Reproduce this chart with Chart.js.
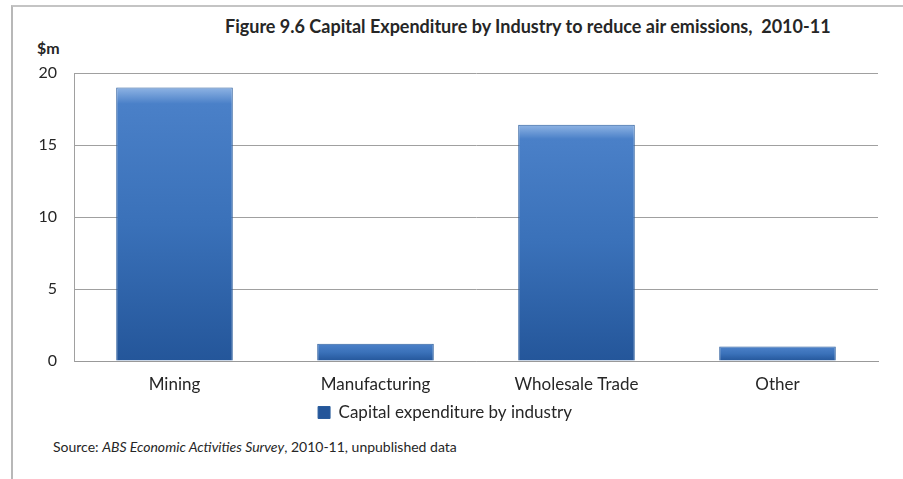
<!DOCTYPE html>
<html>
<head>
<meta charset="utf-8">
<script src="https://cdn.jsdelivr.net/npm/chart.js@4"></script>
<style>
  html, body { margin: 0; padding: 0; background: #fff; }
  body { width: 903px; height: 479px; position: relative; overflow: hidden; font-family: Lato, 'Open Sans', sans-serif; color: #262626; }
  #frame { position: absolute; left: 11px; top: 5px; width: 890px; height: 500px; border-left: 2px solid #b8b8b8; border-top: 2px solid #c4c4c4; border-right: 2px solid #d8d8d8; }
  #title { position: absolute; left: 225px; top: 15px; font-weight: bold; font-size: 18px; white-space: nowrap; }
  #unit { position: absolute; left: 37px; top: 38px; font-weight: bold; font-size: 16px; }
  #source { position: absolute; left: 53px; top: 438px; font-size: 14px; }
  #wrap { position: absolute; left: 12px; top: 6px; width: 889px; height: 425px; }
</style>
</head>
<body>
<div id="frame"></div>
<div id="title">Figure 9.6 Capital Expenditure by Industry to reduce air emissions,&nbsp; 2010-11</div>
<div id="unit">$m</div>
<div id="wrap"><canvas id="chart"></canvas></div>
<div id="source">Source: <i>ABS Economic Activities Survey</i>, 2010-11, unpublished data</div>
<script>
// data
var industries = ['Mining', 'Manufacturing', 'Wholesale Trade', 'Other'];
var spend = [19.0, 1.2, 16.4, 1.0];
var yTicks = [0, 5, 10, 15, 20];

function barFill(ctx) {
  var chart = ctx.chart;
  if (!chart.chartArea || ctx.dataIndex === undefined) return '#2f66ad';
  var y = chart.scales.y;
  var top = y.getPixelForValue(spend[ctx.dataIndex]);
  var base = y.getPixelForValue(0);
  var g = chart.ctx.createLinearGradient(0, top, 0, base);
  g.addColorStop(0, '#8fb4e4');
  g.addColorStop(0.06, '#4a80c8');
  g.addColorStop(0.5, '#3a71b9');
  g.addColorStop(1, '#24569a');
  return g;
}

new Chart(document.getElementById('chart'), {
  type: 'bar',
  data: {
    labels: industries,
    datasets: [{
      label: 'Capital expenditure by industry',
      data: spend,
      backgroundColor: barFill,
      borderColor: '#2a5c9c',
      borderWidth: 1,
      barPercentage: 0.58,
      categoryPercentage: 1
    }]
  },
  options: {
    responsive: true,
    maintainAspectRatio: false,
    animation: false,
    layout: { padding: { left: 0, right: 23, top: 67, bottom: 0 } },
    scales: {
      x: {
        grid: { display: false },
        border: { color: '#999' },
        ticks: { color: '#262626', font: { family: 'Lato', size: 17 }, padding: 5 },
        afterFit: function(s) { s.height = 38; }
      },
      y: {
        min: 0, max: 20,
        afterBuildTicks: function(s) { s.ticks = yTicks.map(function(v) { return { value: v }; }); },
        grid: { color: '#a0a0a0', drawTicks: false },
        border: { color: '#a0a0a0' },
        ticks: { color: '#262626', font: { family: 'Lato', size: 16 }, padding: 17 },
        afterFit: function(s) { s.width = 62; }
      }
    },
    plugins: {
      legend: {
        position: 'bottom',
        labels: { color: '#262626', font: { family: 'Lato', size: 17 }, boxWidth: 12, boxHeight: 12, padding: 5 }
      },
      tooltip: { enabled: false }
    }
  }
});
</script>
</body>
</html>
